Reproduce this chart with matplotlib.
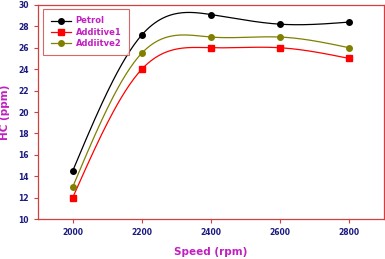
import numpy as np
import matplotlib
matplotlib.use('Agg')
from matplotlib import pyplot as plt

speed = [2000, 2200, 2400, 2600, 2800]
petrol = [14.5, 27.2, 29.1, 28.2, 28.4]
additive1 = [12.0, 24.0, 26.0, 26.0, 25.0]
additive2 = [13.0, 25.5, 27.0, 27.0, 26.0]


def spline(x, y, n=200):
    # natural cubic spline, smooth line through the points
    x = np.asarray(x, float)
    y = np.asarray(y, float)
    k = len(x)
    h = np.diff(x)
    A = np.zeros((k, k))
    b = np.zeros(k)
    A[0, 0] = A[-1, -1] = 1
    for i in range(1, k - 1):
        A[i, i - 1] = h[i - 1]
        A[i, i] = 2 * (h[i - 1] + h[i])
        A[i, i + 1] = h[i]
        b[i] = 6 * ((y[i + 1] - y[i]) / h[i] - (y[i] - y[i - 1]) / h[i - 1])
    M = np.linalg.solve(A, b)
    xs = np.linspace(x[0], x[-1], n)
    ys = np.empty_like(xs)
    for j, xv in enumerate(xs):
        i = min(np.searchsorted(x, xv, side='right') - 1, k - 2)
        t1 = x[i + 1] - xv
        t0 = xv - x[i]
        ys[j] = (M[i] * t1 ** 3 + M[i + 1] * t0 ** 3) / (6 * h[i]) \
            + (y[i] / h[i] - M[i] * h[i] / 6) * t1 \
            + (y[i + 1] / h[i] - M[i + 1] * h[i] / 6) * t0
    return xs, ys


fig = plt.figure(figsize=(3.85, 2.59), dpi=100)
ax = fig.add_axes([0.099, 0.154, 0.898, 0.827])

series = [(petrol, 'Petrol', 'black', 'o'),
          (additive1, 'Additive1', 'red', 's'),
          (additive2, 'Addiitve2', '#808000', 'o')]
for vals, name, col, mk in series:
    xs, ys = spline(speed, vals)
    ax.plot(xs, ys, color=col, lw=0.9)
    ax.plot(speed, vals, linestyle='none', marker=mk, color=col, markersize=4)
    ax.plot([], [], color=col, lw=0.9, marker=mk, markersize=4, label=name)

ax.set_xlim(1900, 2900)
ax.set_ylim(10, 30)
ax.set_xticks(speed)
ax.set_yticks(range(10, 31, 2))
for s in ax.spines.values():
    s.set_color('#d04040')
    s.set_linewidth(0.9)
ax.tick_params(direction='out', length=3, width=0.8, color='#d04040',
               labelsize=5.5, labelcolor='#1a1a80')
for lab in ax.get_xticklabels() + ax.get_yticklabels():
    lab.set_fontweight('bold')

ax.set_xlabel('Speed (rpm)', color='#c020c0', fontsize=7.5, fontweight='bold', labelpad=7)
ax.set_ylabel('HC (ppm)', color='#c020c0', fontsize=7.5, fontweight='bold', labelpad=6)

leg = ax.legend(loc='upper left', fontsize=6, frameon=True, fancybox=False,
                borderaxespad=0, borderpad=0.9, handlelength=2.4, labelspacing=0.25,
                handletextpad=0.6, bbox_to_anchor=(0.0145, 0.981))
leg.get_frame().set_edgecolor('#d04040')
leg.get_frame().set_linewidth(0.8)
for t in leg.get_texts():
    t.set_color('#c020c0')
    t.set_fontweight('bold')

fig.savefig('out.png', dpi=100)
